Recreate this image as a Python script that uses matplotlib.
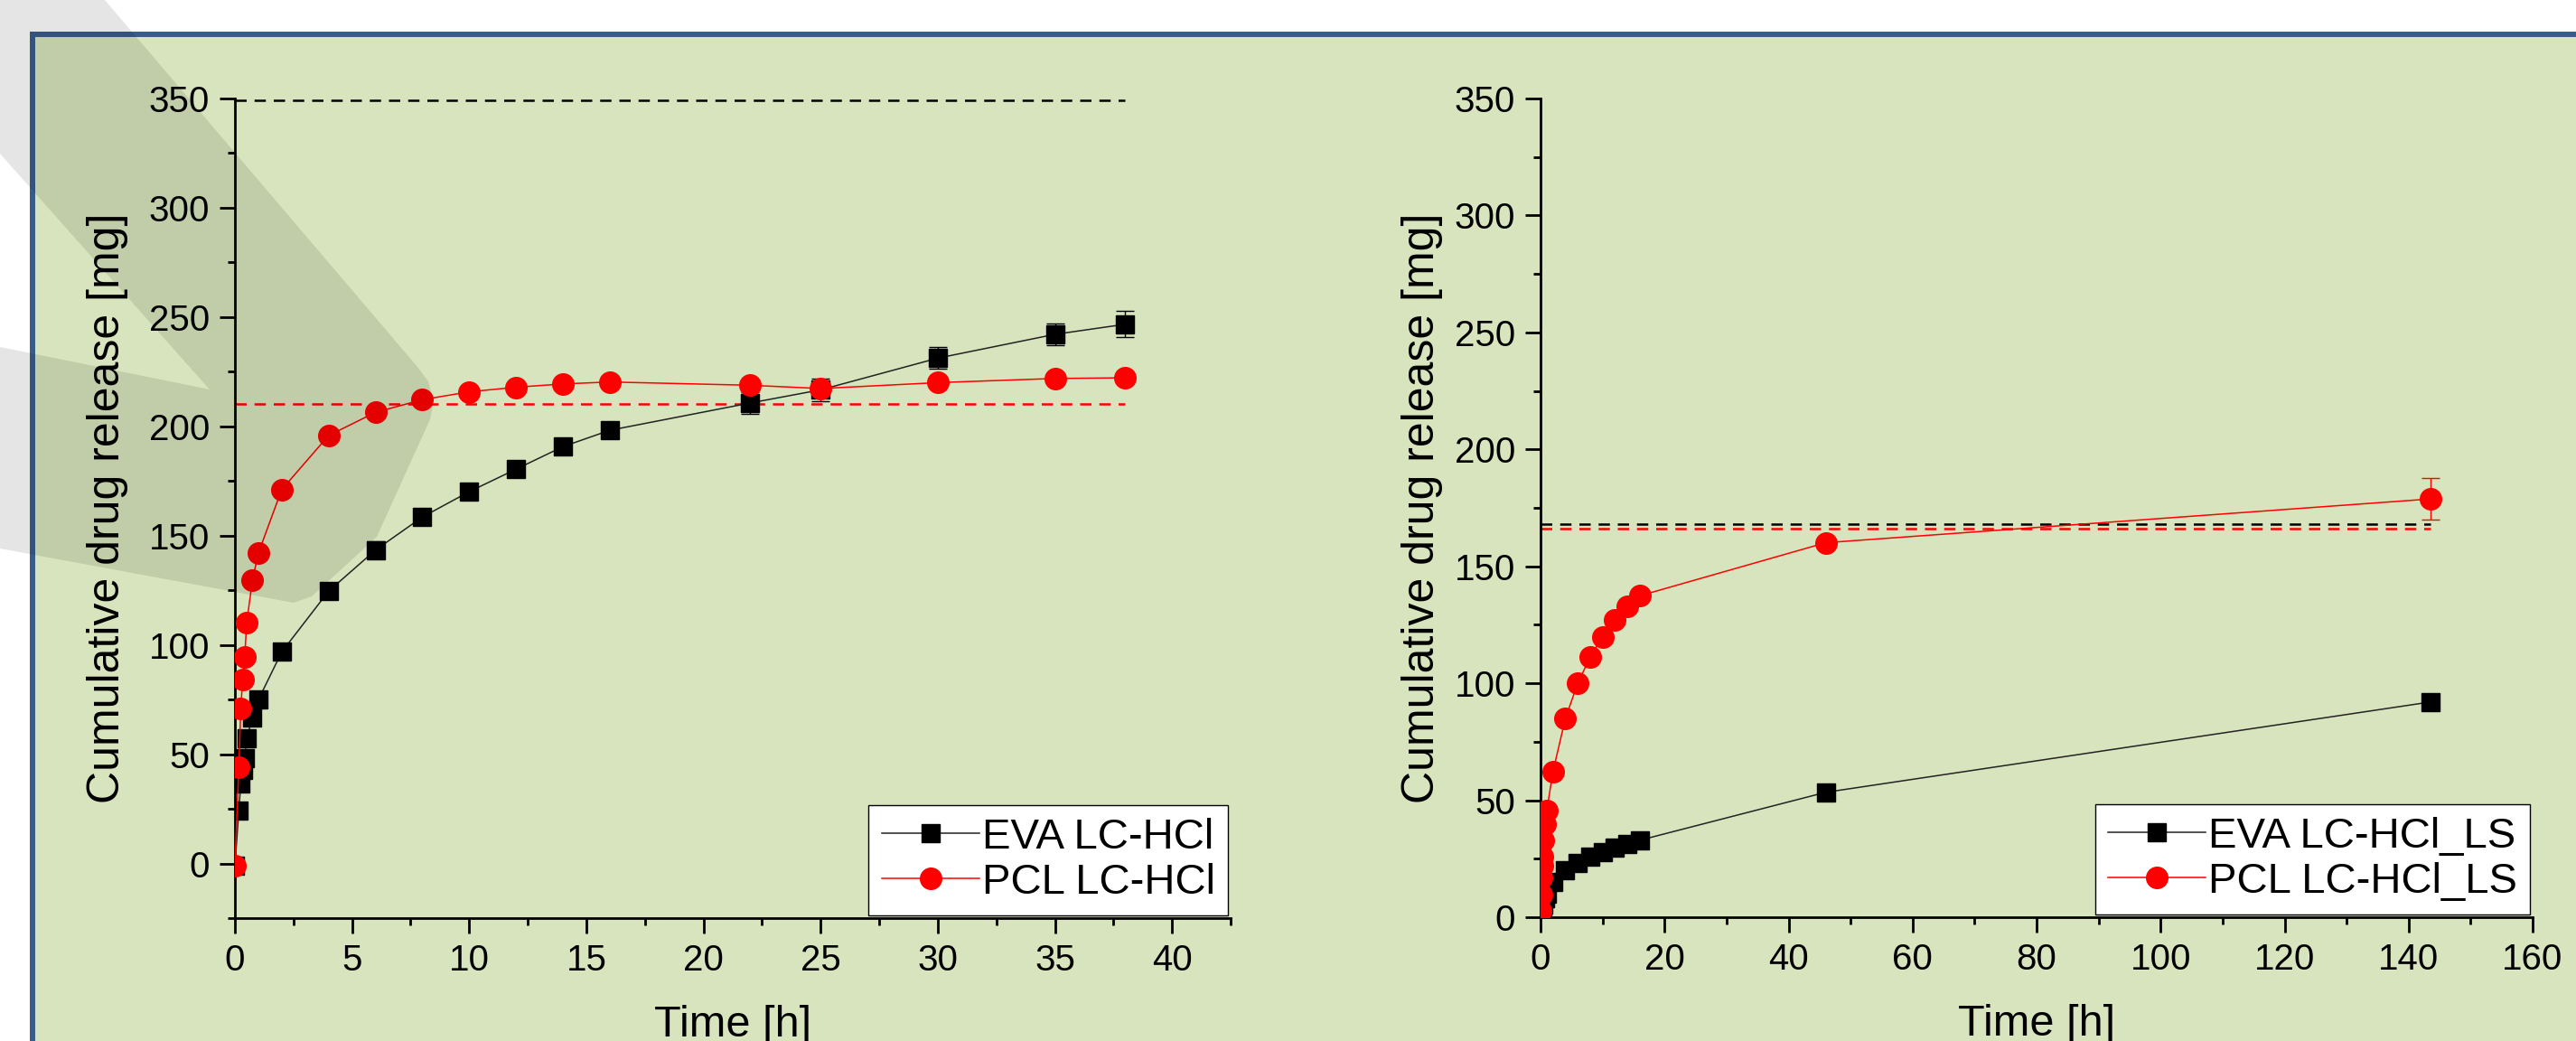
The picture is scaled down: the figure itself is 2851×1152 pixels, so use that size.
import matplotlib
matplotlib.use("Agg")
import matplotlib.pyplot as plt
from matplotlib.patches import Rectangle, Polygon
from matplotlib.ticker import MultipleLocator

plt.rcParams['font.family'] = ['Liberation Sans', 'DejaVu Sans']

# ---- data ----
# left panel: LC-HCl
eva_t = [0, 0.167, 0.25, 0.33, 0.42, 0.5, 0.75, 1, 2, 4, 6, 8, 10, 12, 14, 16, 22, 25, 30, 35, 38]
eva_v = [-1, 24.2, 36.6, 42.7, 48.2, 57.1, 66.7, 74.9, 96.8, 124.6, 143.4, 158.5, 170.1, 180.4,
         190.7, 198.2, 210.7, 216.7, 231.2, 242.1, 246.7]
eva_e = [0, 1, 1, 1, 1, 1, 1, 1, 1, 1.5, 4, 1.5, 1.5, 2, 2, 2, 5, 5, 5, 5, 6]

pcl_t = [0, 0.167, 0.25, 0.33, 0.42, 0.5, 0.75, 1, 2, 4, 6, 8, 10, 12, 14, 16, 22, 25, 30, 35, 38]
pcl_v = [-1.1, 44.1, 70.8, 84.2, 94.5, 110.1, 129.7, 142.0, 171.1, 195.8, 206.4, 212.2, 215.8,
         217.9, 219.4, 220.3, 218.8, 217.3, 220.0, 221.9, 222.2]
pcl_e = [0, 2, 1, 1, 1, 1, 1, 1, 1, 1, 1, 1, 1, 1, 1, 1, 1.5, 2, 1.5, 1, 1]

load_left = [349.3, 210.4]      # black, red dashed reference
load_left_end = 38

# right panel: LC-HCl_LS
eva_ls_t = [0, 0.25, 0.5, 0.75, 1, 2, 4, 6, 8, 10, 12, 14, 16, 46, 143.5]
eva_ls_v = [0.7, 2.7, 5.4, 8.1, 10.1, 14.9, 19.9, 23.0, 25.8, 27.8, 29.8, 31.2, 32.9, 53.4, 92.0]
eva_ls_e = [0.5, 0.5, 0.5, 0.5, 0.5, 1, 1, 1, 1, 1, 1, 1, 1, 1, 1.5]

pcl_ls_t = [0, 0.083, 0.167, 0.25, 0.33, 0.5, 0.75, 1, 2, 4, 6, 8, 10, 12, 14, 16, 46, 143.5]
pcl_ls_v = [2.7, 9.5, 16.9, 21.9, 25.9, 32.7, 39.9, 45.5, 62.2, 84.9, 100.0, 111.2, 119.9,
            127.0, 132.8, 137.4, 160.1, 178.8]
pcl_ls_e = [0.5, 1, 1, 1, 1, 1, 1, 1, 2.5, 1, 1, 1, 1, 1, 1, 1, 1, 8.8]

load_right = [168.0, 166.3]
load_right_end = 143.5

labels_left = ['EVA LC-HCl', 'PCL LC-HCl']
labels_right = ['EVA LC-HCl_LS', 'PCL LC-HCl_LS']

W, H = 2851, 1152
fig = plt.figure(figsize=(W / 100, H / 100), dpi=100)
fig.patch.set_facecolor('white')


def fx(x):
    return x / W


def fy(y):
    return 1 - y / H


# green slide panel with blue border
fig.add_artist(Rectangle((fx(36), -0.1), 1.2, fy(38) + 0.1, transform=fig.transFigure,
                         facecolor='#D7E4BD', edgecolor='#385D8A', lw=4.3, zorder=-10))

# translucent gray chevron decoration (on top of everything)
chev = [(0, 0), (116, 0), (462, 406), (474, 422), (480, 444), (476, 464), (417, 594),
        (345, 660), (325, 667), (0, 607), (0, 384), (232, 431), (0, 170)]
fig.add_artist(Polygon([(fx(x), fy(y)) for x, y in chev], closed=True, transform=fig.transFigure,
                       facecolor='black', edgecolor='none', alpha=0.1, zorder=50))

ax1 = fig.add_axes([fx(260), fy(1016), fx(1362) - fx(260), fy(109) - fy(1016)])
ax2 = fig.add_axes([fx(1705), fy(1015), fx(2803) - fx(1705), fy(109) - fy(1015)])


def draw(ax, t1, v1, e1, t2, v2, e2, loads, load_end, labels):
    ax.set_facecolor('none')
    ax.hlines(loads[0], 0, load_end, colors='black', linestyles=(0, (5, 3.5)), lw=1.8, zorder=1)
    ax.hlines(loads[1], 0, load_end, colors='red', linestyles=(0, (5, 3.5)), lw=1.8, zorder=1)
    ax.errorbar(t1, v1, yerr=e1, fmt='none', ecolor='black', elinewidth=1, capsize=7,
                capthick=1, zorder=3)
    ax.plot(t1, v1, color='#222222', lw=1.1, marker='s', ms=14.5, mfc='black', mec='black',
            label=labels[0], zorder=3)
    ax.errorbar(t2, v2, yerr=e2, fmt='none', ecolor='red', elinewidth=1, capsize=7,
                capthick=1, zorder=4)
    ax.plot(t2, v2, color='red', lw=1.1, marker='o', ms=17, mfc='red', mec='red',
            label=labels[1], zorder=4)
    for s in ['top', 'right']:
        ax.spines[s].set_visible(False)
    for s in ['left', 'bottom']:
        ax.spines[s].set_linewidth(2)
    ax.tick_params(which='major', direction='out', length=12, width=2, labelsize=29, pad=8)
    ax.tick_params(which='minor', direction='out', length=6, width=2)
    ax.set_ylabel('Cumulative drug release [mg]', fontsize=36)
    ax.set_xlabel('Time [h]', fontsize=35, labelpad=22)
    leg = ax.legend(loc='lower right', bbox_to_anchor=(1, 0), fontsize=34, frameon=True,
                    fancybox=False, edgecolor='black', framealpha=1, borderpad=0.3,
                    handlelength=2.3, handletextpad=0.05, labelspacing=0.12,
                    borderaxespad=0.07)
    leg.get_frame().set_linewidth(1)


draw(ax1, eva_t, eva_v, eva_e, pcl_t, pcl_v, pcl_e, load_left, load_left_end, labels_left)
ax1.set_xlim(0, 42.5)
ax1.set_ylim(-25, 350)
ax1.xaxis.set_major_locator(MultipleLocator(5))
ax1.xaxis.set_minor_locator(MultipleLocator(2.5))
ax1.set_yticks([0, 50, 100, 150, 200, 250, 300, 350])
ax1.yaxis.set_minor_locator(MultipleLocator(25))
ax1.yaxis.labelpad = 16

draw(ax2, eva_ls_t, eva_ls_v, eva_ls_e, pcl_ls_t, pcl_ls_v, pcl_ls_e, load_right, load_right_end,
     labels_right)
ax2.set_xlim(0, 160)
ax2.set_ylim(0, 350)
ax2.xaxis.set_major_locator(MultipleLocator(20))
ax2.xaxis.set_minor_locator(MultipleLocator(10))
ax2.yaxis.set_major_locator(MultipleLocator(50))
ax2.yaxis.set_minor_locator(MultipleLocator(25))
ax2.yaxis.labelpad = 9

fig.savefig('out.png', dpi=100)
